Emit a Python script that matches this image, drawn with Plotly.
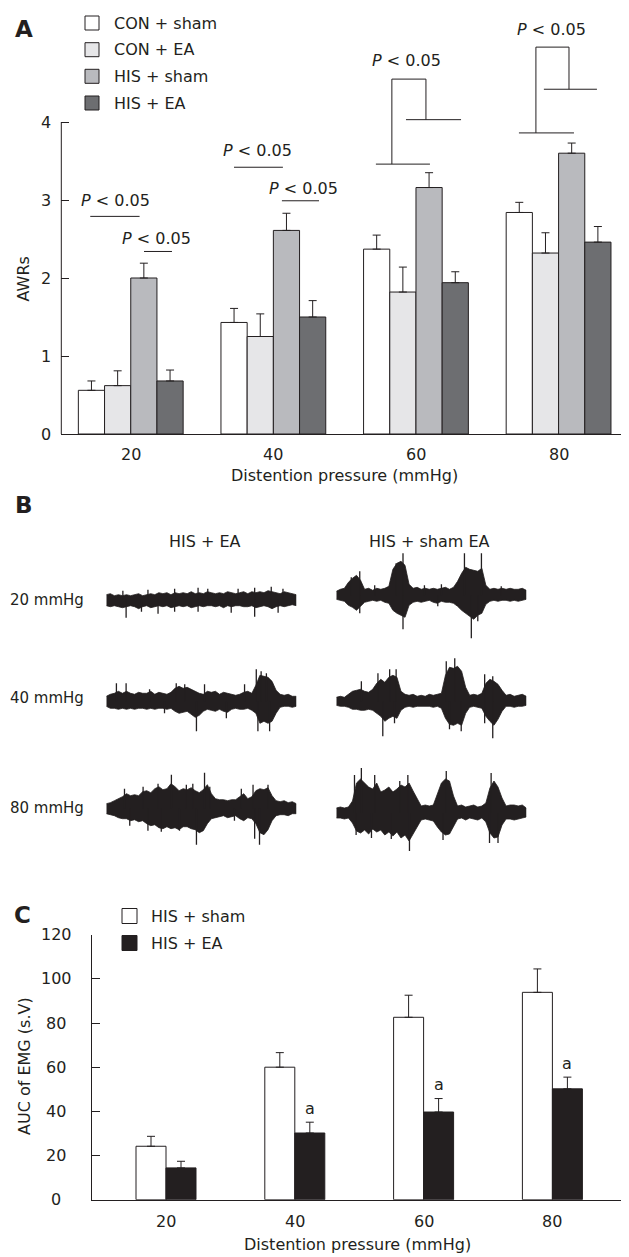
import plotly.graph_objects as go

W, H = 629, 1257
FONT = "DejaVu Sans"
INK = "#231f20"


def px(x):
    return x / W


def py(y):
    return 1 - y / H


# ---------------- data: panel A (AWR scores) ----------------
pressures = ["20", "40", "60", "80"]
awr_names = ["CON + sham", "CON + EA", "HIS + sham", "HIS + EA"]
awr_colors = ["#ffffff", "#e6e6e8", "#b9babe", "#6d6e71"]
awr_con_sham = [0.56, 1.43, 2.37, 2.84]
awr_con_sham_err = [0.12, 0.18, 0.18, 0.13]
awr_con_ea = [0.62, 1.25, 1.82, 2.32]
awr_con_ea_err = [0.19, 0.29, 0.32, 0.26]
awr_his_sham = [2.00, 2.61, 3.16, 3.60]
awr_his_sham_err = [0.19, 0.22, 0.19, 0.13]
awr_his_ea = [0.68, 1.50, 1.94, 2.46]
awr_his_ea_err = [0.14, 0.21, 0.14, 0.20]

# ---------------- data: panel C (AUC of EMG) ----------------
auc_names = ["HIS + sham", "HIS + EA"]
auc_colors = ["#ffffff", INK]
auc_his_sham = [24.2, 60.0, 82.6, 93.9]
auc_his_sham_err = [4.5, 6.6, 10.0, 10.6]
auc_his_ea = [14.4, 30.2, 39.7, 50.2]
auc_his_ea_err = [3.0, 4.9, 6.1, 5.3]
auc_sig = ["", "a", "a", "a"]

# ---------------- data: panel B (EMG envelopes, upper / lower amplitude) ----------------
emg_t = list(range(48))
emg_l20_up = [5, 6, 4, 5, 4, 5, 4, 5, 6, 4, 5, 6, 5, 7, 6, 7, 5, 7, 6, 7, 6, 8, 6, 7,
              6, 8, 7, 6, 7, 6, 8, 7, 6, 7, 8, 6, 8, 7, 8, 7, 9, 8, 7, 6, 8, 7, 6, 5]
emg_l20_lo = [6, 7, 6, 7, 8, 7, 6, 7, 9, 7, 6, 8, 7, 6, 7, 6, 8, 7, 6, 7, 6, 8, 7, 6,
              7, 6, 6, 7, 6, 8, 6, 7, 6, 6, 7, 7, 6, 8, 7, 6, 7, 9, 7, 6, 7, 6, 5, 6]
emg_r20_up = [4, 6, 7, 13, 17, 20, 15, 6, 7, 5, 7, 6, 7, 9, 26, 32, 34, 30, 11, 7, 8, 6, 7, 6,
              7, 6, 7, 8, 6, 8, 14, 22, 28, 26, 25, 24, 27, 10, 6, 7, 6, 7, 6, 7, 6, 6, 7, 5]
emg_r20_lo = [4, 5, 6, 10, 12, 15, 11, 7, 6, 5, 6, 5, 7, 8, 15, 18, 20, 22, 10, 7, 6, 7, 6, 5,
              7, 8, 6, 7, 7, 8, 11, 15, 18, 21, 24, 20, 18, 9, 6, 5, 6, 5, 5, 6, 5, 6, 5, 4]
emg_l40_up = [5, 7, 8, 10, 8, 10, 8, 7, 9, 8, 8, 10, 7, 9, 8, 7, 9, 13, 15, 13, 14, 12, 10, 8,
              7, 10, 9, 10, 7, 9, 8, 7, 6, 7, 9, 10, 8, 16, 26, 25, 24, 20, 11, 7, 6, 7, 5, 5]
emg_l40_lo = [5, 7, 7, 8, 7, 8, 7, 8, 7, 7, 8, 7, 8, 7, 7, 8, 7, 10, 12, 11, 10, 13, 16, 14,
              10, 8, 9, 10, 8, 10, 11, 8, 7, 8, 8, 7, 9, 12, 22, 20, 22, 20, 12, 6, 5, 5, 6, 5]
emg_r40_up = [4, 5, 4, 7, 10, 11, 12, 10, 9, 12, 18, 22, 19, 24, 26, 24, 10, 7, 6, 7, 5, 6, 5, 7,
              6, 7, 8, 26, 34, 33, 35, 30, 14, 6, 7, 6, 8, 18, 22, 20, 17, 11, 6, 7, 5, 6, 7, 5]
emg_r40_lo = [4, 5, 5, 6, 8, 8, 9, 9, 8, 9, 12, 15, 20, 17, 15, 17, 9, 6, 5, 6, 5, 5, 5, 5,
              6, 5, 7, 17, 23, 24, 22, 24, 12, 6, 5, 6, 7, 15, 20, 24, 18, 10, 5, 5, 6, 5, 5, 4]
emg_l80_up = [5, 6, 8, 10, 12, 15, 13, 14, 13, 17, 18, 16, 20, 22, 19, 20, 25, 22, 18, 20, 19, 21, 18, 16,
              19, 24, 15, 10, 9, 9, 8, 9, 9, 12, 15, 10, 12, 18, 20, 19, 21, 13, 8, 7, 8, 6, 7, 5]
emg_l80_lo = [5, 6, 7, 9, 10, 10, 12, 11, 13, 12, 15, 17, 16, 19, 20, 18, 20, 19, 21, 18, 18, 20, 21, 24,
              22, 15, 10, 9, 8, 7, 9, 8, 7, 10, 12, 9, 10, 15, 24, 26, 21, 12, 7, 6, 6, 7, 5, 5]
emg_r80_up = [5, 6, 5, 6, 12, 30, 34, 30, 26, 24, 30, 21, 23, 26, 21, 24, 28, 26, 30, 22, 15, 7, 8, 7,
              8, 20, 30, 34, 32, 17, 7, 8, 6, 7, 8, 6, 7, 10, 25, 32, 26, 15, 7, 8, 8, 7, 8, 5]
emg_r80_lo = [5, 5, 6, 5, 10, 18, 20, 17, 21, 16, 19, 17, 22, 19, 23, 19, 25, 22, 28, 20, 14, 7, 6, 7,
              8, 14, 19, 22, 21, 14, 6, 5, 7, 5, 6, 7, 5, 9, 20, 25, 24, 12, 6, 6, 7, 6, 5, 4]

# individual EMG spikes: sample position and amplitude (+ up, - down)
spk_l20_t = [4.1, 4.9, 8.7, 10.3, 12.8, 16.9, 16.9, 22.7, 22.7, 25.1, 30.9, 32.6, 36.7, 36.7, 40.8, 42.5, 43.7]
spk_l20_a = [9, -18, -12, 10, -14, 11, -12, 12, -12, 11, -13, 11, 12, -17, 13, -13, 11]
spk_r20_t = [3.7, 5.8, 9.5, 14.8, 16.5, 21.8, 26.0, 31.7, 35.9, 40.8, 5.8, 16.5, 25.1, 33.4, 35.0]
spk_r20_a = [18, 24, 10, 32, 42, 10, 11, 42, 42, 9, -18, -34, -11, -43, -26]
spk_l40_t = [2.5, 4.9, 10.7, 17.3, 19.4, 24.3, 34.2, 37.1, 38.3, 39.6, 14.4, 22.3, 29.7, 37.5, 40.4]
spk_l40_a = [18, 18, 12, 18, 17, 17, 17, 32, 30, 28, -12, -30, -17, -30, -30]
spk_r40_t = [6.2, 10.3, 13.2, 14.8, 27.2, 29.3, 36.7, 38.7, 11.5, 14.4, 28.0, 30.9, 36.7, 38.7]
spk_r40_a = [20, 28, 32, 32, 40, 43, 27, 25, -35, -22, -28, -30, -22, -37]
spk_l80_t = [4.5, 9.1, 12.8, 16.1, 19.8, 21.4, 24.3, 25.6, 33.4, 36.3, 40.0,
             5.8, 10.3, 13.6, 18.1, 22.3, 31.7, 36.7, 37.9]
spk_l80_a = [20, 22, 25, 34, 24, 25, 36, 22, 20, 24, 24, -17, -22, -23, -22, -36, -12, -30, -36]
spk_r80_t = [4.5, 6.2, 9.5, 15.7, 17.7, 27.2, 38.3, 4.9, 8.7, 13.6, 18.1, 26.4, 37.9, 40.0]
spk_r80_a = [38, 45, 38, 32, 38, 42, 40, -22, -25, -26, -38, -27, -30, -30]

fig = go.Figure()

# ---------------- panel A bars ----------------
wA = 26.2 / 142.6
awr_vals = [awr_con_sham, awr_con_ea, awr_his_sham, awr_his_ea]
awr_errs = [awr_con_sham_err, awr_con_ea_err, awr_his_sham_err, awr_his_ea_err]
for k, (vals, errs) in enumerate(zip(awr_vals, awr_errs)):
    fig.add_trace(go.Bar(
        x=pressures, y=vals, width=wA, offset=(k - 2) * wA,
        marker=dict(color=awr_colors[k], line=dict(color=INK, width=1)),
        error_y=dict(type="data", symmetric=False, array=errs, arrayminus=[0] * len(errs),
                     color=INK, thickness=1, width=4),
        name=awr_names[k], showlegend=False, xaxis="x", yaxis="y", hoverinfo="skip"))

# ---------------- panel C bars ----------------
wC = 30.0 / 128.8
auc_vals = [auc_his_sham, auc_his_ea]
auc_errs = [auc_his_sham_err, auc_his_ea_err]
for k, (vals, errs) in enumerate(zip(auc_vals, auc_errs)):
    fig.add_trace(go.Bar(
        x=pressures, y=vals, width=wC, offset=(k - 1) * wC,
        marker=dict(color=auc_colors[k], line=dict(color=INK, width=1)),
        error_y=dict(type="data", symmetric=False, array=errs, arrayminus=[0] * len(errs),
                     color=INK, thickness=1, width=4),
        name=auc_names[k], showlegend=False, xaxis="x2", yaxis="y2", hoverinfo="skip"))

# ---------------- panel B EMG traces ----------------
emg_traces = [
    (emg_l20_up, emg_l20_lo, spk_l20_t, spk_l20_a, "L", 591.7),
    (emg_r20_up, emg_r20_lo, spk_r20_t, spk_r20_a, "R", 587.3),
    (emg_l40_up, emg_l40_lo, spk_l40_t, spk_l40_a, "L", 693.3),
    (emg_r40_up, emg_r40_lo, spk_r40_t, spk_r40_a, "R", 693.3),
    (emg_l80_up, emg_l80_lo, spk_l80_t, spk_l80_a, "L", 800.7),
    (emg_r80_up, emg_r80_lo, spk_r80_t, spk_r80_a, "R", 805.0),
]
layout_axes = {}
for i, (up, lo, st, sa, side, base) in enumerate(emg_traces):
    n = i + 3
    xs = emg_t + emg_t[::-1]
    ys = up + [-v for v in lo[::-1]]
    fig.add_trace(go.Scatter(
        x=xs, y=ys, mode="lines", fill="toself", fillcolor=INK,
        line=dict(color=INK, width=0.8), showlegend=False, hoverinfo="skip",
        xaxis=f"x{n}", yaxis=f"y{n}"))
    sx, sy = [], []
    for t, a in zip(st, sa):
        sx += [t, t, None]
        sy += [0, a, None]
    fig.add_trace(go.Scatter(
        x=sx, y=sy, mode="lines", line=dict(color=INK, width=1.3),
        showlegend=False, hoverinfo="skip", xaxis=f"x{n}", yaxis=f"y{n}"))
    xd = [px(98.3), px(288.3)] if side == "L" else [px(328.3), px(518.3)]
    layout_axes[f"xaxis{n}"] = dict(domain=xd, range=[0, len(emg_t) - 1], visible=False,
                                    anchor=f"y{n}", fixedrange=True)
    layout_axes[f"yaxis{n}"] = dict(domain=[py(base + 50), py(base - 50)], range=[-50, 50],
                                    visible=False, anchor=f"x{n}", fixedrange=True)

# ---------------- layout ----------------
txt = dict(family=FONT, size=16, color=INK)
annotations = []
shapes = []


def ann(text, x, y, xref="paper", yref="paper", size=16, bold=False, xanchor="center",
        yanchor="middle", angle=0, **kw):
    t = f"<b>{text}</b>" if bold else text
    annotations.append(dict(text=t, x=x, y=y, xref=xref, yref=yref, showarrow=False,
                            xanchor=xanchor, yanchor=yanchor, textangle=angle,
                            font=dict(family=FONT, size=size, color=INK), **kw))


def line(x0, y0, x1, y1, xref="x", yref="y"):
    shapes.append(dict(type="line", x0=x0, y0=y0, x1=x1, y1=y1, xref=xref, yref=yref,
                       line=dict(color=INK, width=1)))


# panel letters
ann("A", px(15.5), py(21.5), size=23, bold=True)
ann("B", px(15.5), py(497), size=23, bold=True)
ann("C", px(14.5), py(907), size=23, bold=True)

# panel A legend
for k, name in enumerate(awr_names):
    yc = [15, 41.7, 68.3, 95][k]
    shapes.append(dict(type="rect", xref="paper", yref="paper", x0=px(77), x1=px(91),
                       y0=py(yc + 7), y1=py(yc - 7), fillcolor=awr_colors[k],
                       line=dict(color=INK, width=1)))
    ann(name, px(104), py(yc), xanchor="left")

# panel C legend
for k, name in enumerate(auc_names):
    yc = [908, 935][k]
    shapes.append(dict(type="rect", xref="paper", yref="paper", x0=px(114), x1=px(129),
                       y0=py(yc + 7.5), y1=py(yc - 7.5), fillcolor=auc_colors[k],
                       line=dict(color=INK, width=1)))
    ann(name, px(141), py(yc), xanchor="left")

# y tick labels (centered as in the original)
for v in [0, 1, 2, 3, 4]:
    ann(str(v), px(37.5), v, yref="y")
for v in [0, 20, 40, 60, 80, 100, 120]:
    ann(str(v), px(48), v, yref="y2")
# x tick labels (category serial positions)
for i, c in enumerate(pressures):
    ann(c, i, py(446), xref="x")
    ann(c, i, py(1213), xref="x2")

# axis titles
ann("AWRs", px(15), py(271.5), angle=-90)
ann("Distention pressure (mmHg)", px(336), py(467))
ann("AUC of EMG (s.V)", px(16), py(1058), angle=-90)
ann("Distention pressure (mmHg)", px(350), py(1236.7))

# panel B headers
ann("HIS + EA", px(196.7), py(533))
ann("HIS + sham EA", px(421), py(533))
ann("20 mmHg", px(0), py(592), xanchor="left", size=15)
ann("40 mmHg", px(0), py(690), xanchor="left", size=15)
ann("80 mmHg", px(0), py(800), xanchor="left", size=15)

# significance marks, panel A
P = "<i>P</i> &lt; 0.05"
ann(P, -0.105, 2.99, xref="x", yref="y")
line(-0.284, 2.79, 0.062, 2.79)
ann(P, 0.184, 2.51, xref="x", yref="y")
line(0.093, 2.34, 0.289, 2.34)
ann(P, 0.892, 3.63, xref="x", yref="y")
line(0.724, 3.42, 1.067, 3.42)
ann(P, 1.211, 3.15, xref="x", yref="y")
line(1.06, 2.99, 1.32, 2.99)
# bracket at 60
ann(P, 1.937, 4.79, xref="x", yref="y")
line(1.831, 3.46, 1.831, 4.55)
line(1.831, 4.55, 2.070, 4.55)
line(2.070, 4.55, 2.070, 4.03)
line(1.930, 4.03, 2.316, 4.03)
line(1.719, 3.46, 2.098, 3.46)
# bracket at 80
ann(P, 2.947, 5.18, xref="x", yref="y")
line(2.841, 3.86, 2.841, 4.96)
line(2.841, 4.96, 3.073, 4.96)
line(3.073, 4.96, 3.073, 4.42)
line(2.897, 4.42, 3.269, 4.42)
line(2.722, 3.86, 3.108, 3.86)

# y axis line of panel A (only up to 4)
shapes.append(dict(type="line", xref="x domain", yref="y", x0=0, x1=0, y0=0, y1=4,
                   line=dict(color=INK, width=1)))

# significance letters, panel C
for i, (v, e, s) in enumerate(zip(auc_his_ea, auc_his_ea_err, auc_sig)):
    if s:
        ann(s, i, v + e, xref="x2", yref="y2", yshift=14, xshift=wC * 128.8 / 2)

yA_top = 426.0 / 78.0
fig.update_layout(
    width=W, height=H, margin=dict(l=0, r=0, t=0, b=0),
    paper_bgcolor="white", plot_bgcolor="rgba(0,0,0,0)",
    barmode="overlay", showlegend=False, font=txt,
    xaxis=dict(domain=[px(53.3), px(621.6)], range=[-0.487, 3.498], type="category",
               categoryorder="array", categoryarray=pressures,
               showline=True, linecolor=INK, linewidth=1, ticks="", showticklabels=False,
               showgrid=False, zeroline=False, anchor="y", fixedrange=True),
    yaxis=dict(domain=[py(426.0), 1.0], range=[0, yA_top], tickvals=[0, 1, 2, 3, 4],
               ticks="inside", ticklen=8, tickcolor=INK, tickwidth=1, showticklabels=False,
               showline=False, showgrid=False, zeroline=False, anchor="x", fixedrange=True),
    xaxis2=dict(domain=[px(84.2), px(620.0)], range=[-0.573, 3.587], type="category",
                categoryorder="array", categoryarray=pressures,
                showline=True, linecolor=INK, linewidth=1, ticks="", showticklabels=False,
                showgrid=False, zeroline=False, anchor="y2", fixedrange=True),
    yaxis2=dict(domain=[py(1191.7), py(926.7)], range=[0, 120],
                tickvals=[0, 20, 40, 60, 80, 100, 120],
                ticks="inside", ticklen=8, tickcolor=INK, tickwidth=1, showticklabels=False,
                showline=True, linecolor=INK, linewidth=1, showgrid=False, zeroline=False,
                anchor="x2", fixedrange=True),
    annotations=annotations, shapes=shapes,
    **layout_axes,
)

fig.write_html("out.html")
